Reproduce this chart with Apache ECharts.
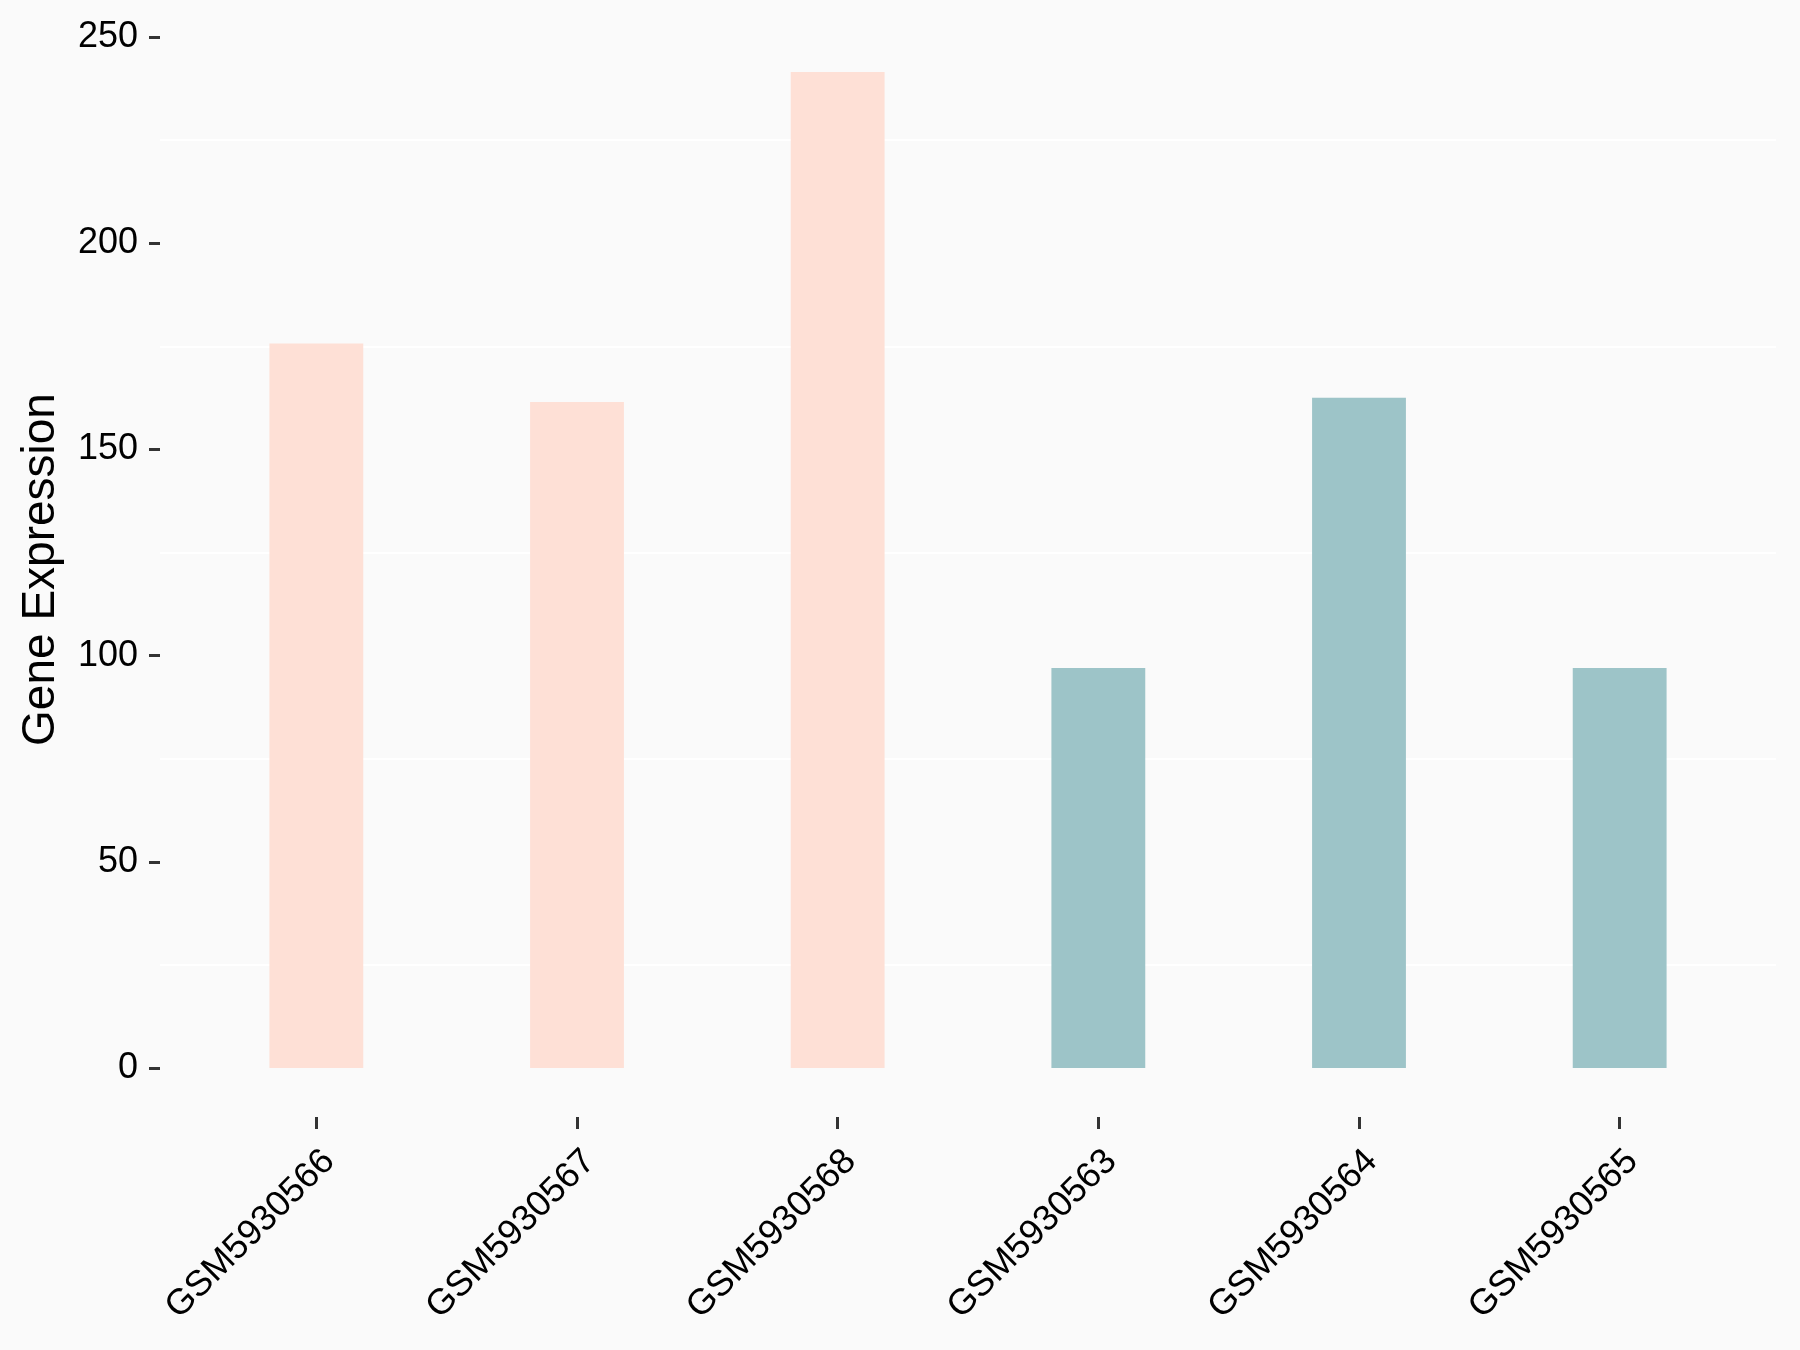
<!DOCTYPE html>
<html><head><meta charset="utf-8">
<script src="https://cdn.jsdelivr.net/npm/echarts@6/dist/echarts.min.js"></script>
<style>html,body{margin:0;padding:0;background:#FAFAFA}#c{width:1800px;height:1350px}</style>
</head><body><div id="c"></div>
<script>
const samples = ['GSM5930566','GSM5930567','GSM5930568','GSM5930563','GSM5930564','GSM5930565'];
const expression = [175.7, 161.5, 241.5, 97.0, 162.5, 97.0];
const groups = ['A','A','A','B','B','B'];
const yTicks = [0, 50, 100, 150, 200, 250];
const groupColors = {A: '#FEE0D6', B: '#9DC4C8'};

const FONT = "'Liberation Sans', Arial, sans-serif";
const yMin = yTicks[0], yMax = yTicks[yTicks.length - 1], yStep = yTicks[1] - yTicks[0];

// layout (pixels)
const TOP = 37, ZERO_Y = 1068, XAXIS_Y = 1117, H = 1350;
const pxPerUnit = (ZERO_Y - TOP) / (yMax - yMin);
const barAxisMin = yMax - (XAXIS_Y - TOP) / pxPerUnit;

const chart = echarts.init(document.getElementById('c'), null, {renderer: 'canvas'});
chart.setOption({
  backgroundColor: '#FAFAFA',
  animation: false,
  grid: [
    {left: 160, right: 24, top: TOP, bottom: H - ZERO_Y},
    {left: 186, right: 50, top: TOP, bottom: H - XAXIS_Y}
  ],
  xAxis: [
    {gridIndex: 0, type: 'value', show: false, min: 0, max: 1},
    {
      gridIndex: 1, type: 'category', data: samples, boundaryGap: true,
      axisLine: {show: false, onZero: false},
      axisTick: {show: true, alignWithLabel: true, length: 12, lineStyle: {color: '#333', width: 3}},
      axisLabel: {
        rotate: 45, interval: 0, margin: 26, fontSize: 36, color: '#000', fontFamily: FONT,
        align: 'right', verticalAlign: 'top'
      },
      splitLine: {show: false}
    }
  ],
  yAxis: [
    {
      gridIndex: 0, type: 'value', min: yMin, max: yMax, interval: yStep,
      name: 'Gene Expression', nameLocation: 'middle', nameRotate: 90, nameGap: 96,
      nameTextStyle: {fontSize: 46, color: '#000', fontFamily: FONT, padding: [0, 34, 0, 0]},
      axisLine: {show: false},
      axisTick: {show: true, length: 11, lineStyle: {color: '#333', width: 3}},
      axisLabel: {fontSize: 36, color: '#000', fontFamily: FONT, margin: 22},
      splitLine: {show: false},
      minorTick: {show: false, splitNumber: 2},
      minorSplitLine: {show: true, lineStyle: {color: '#FFFFFF', width: 2}}
    },
    {gridIndex: 1, type: 'value', min: barAxisMin, max: yMax, show: false, splitLine: {show: false}}
  ],
  series: [{
    type: 'bar', xAxisIndex: 1, yAxisIndex: 1, barWidth: '36%',
    data: expression.map((v, i) => ({value: v, itemStyle: {color: groupColors[groups[i]]}}))
  }]
});
</script></body></html>
